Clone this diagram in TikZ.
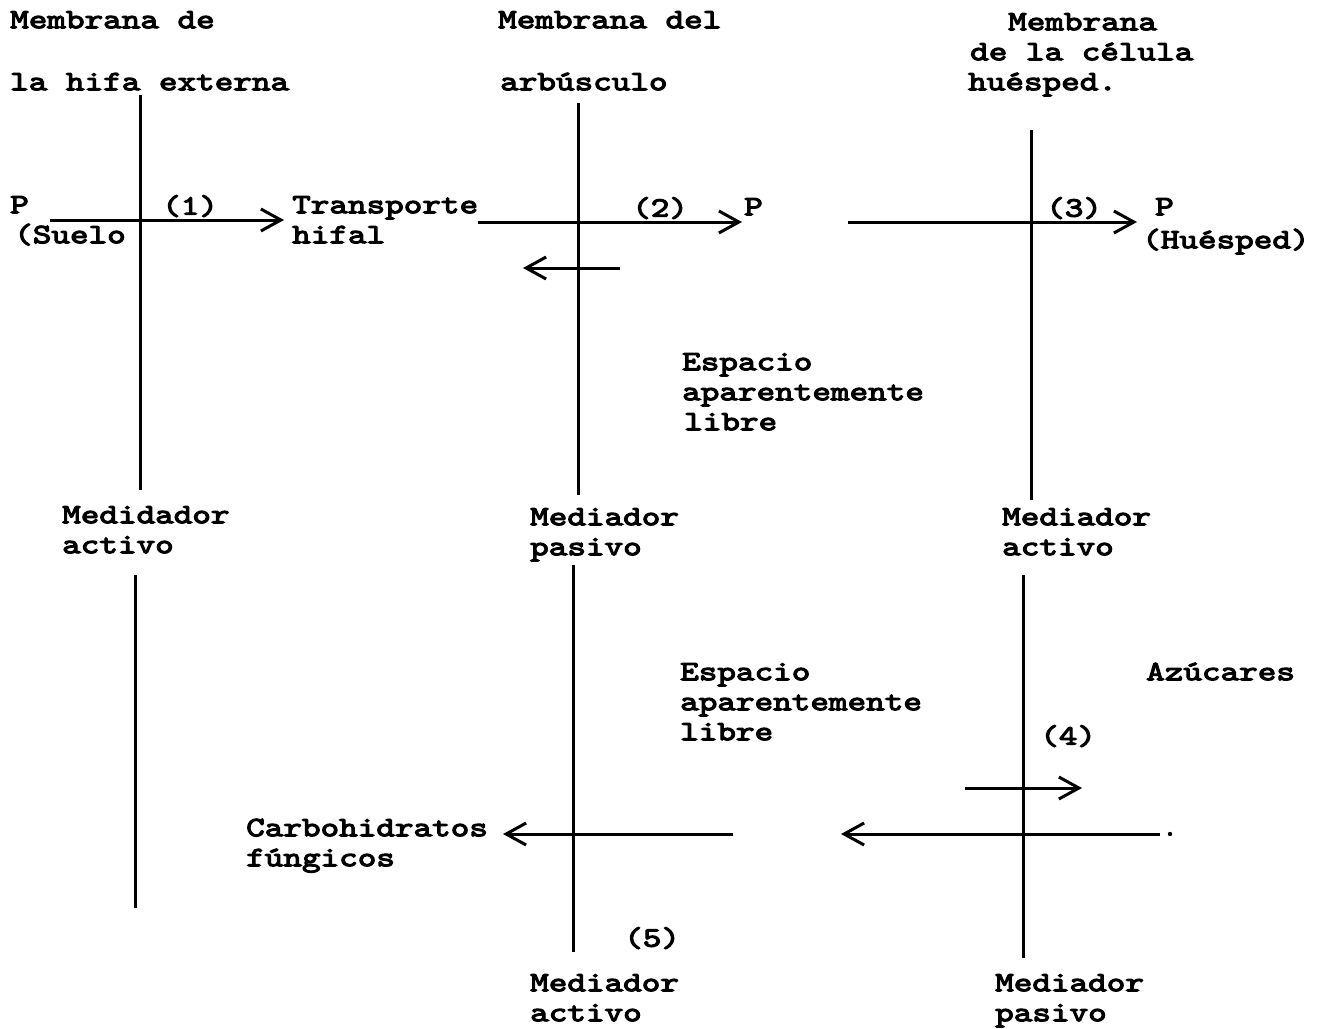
\documentclass[tikz,border=0pt]{standalone}
\usepackage{fontspec}
\newfontfamily\twfont{lmmono10-regular.otf}[FakeStretch=1.265,FakeBold=4]
\usetikzlibrary{arrows.meta}
\newcommand{\fl}{\rule{0pt}{18pt}}
\begin{document}
\begin{tikzpicture}[x=1pt,y=-1pt,
  lbl/.style={anchor=north west,inner sep=0pt,align=left,font=\fontsize{28}{30}\selectfont\twfont},
  mem/.style={line width=3pt},
  flow/.style={line width=3pt,-{Straight Barb[length=20pt,width=22pt,line width=3pt]}}]
\useasboundingbox (0,0) rectangle (1317,1028);
% membranes
\coordinate (m1a) at (140,95);  \coordinate (m1b) at (140,490);
\coordinate (m1c) at (135,575); \coordinate (m1d) at (135,908);
\coordinate (m2a) at (578,103); \coordinate (m2b) at (578,495);
\coordinate (m2c) at (573,565); \coordinate (m2d) at (573,952);
\coordinate (m3a) at (1031,130); \coordinate (m3b) at (1031,500);
\coordinate (m3c) at (1023,575); \coordinate (m3d) at (1023,958);
\draw[mem] (m1a) -- (m1b); \draw[mem] (m1c) -- (m1d);
\draw[mem] (m2a) -- (m2b); \draw[mem] (m2c) -- (m2d);
\draw[mem] (m3a) -- (m3b); \draw[mem] (m3c) -- (m3d);
% arrows
\coordinate (a1s) at (50,220);  \coordinate (a1e) at (284,220);
\coordinate (a2s) at (478,222); \coordinate (a2e) at (742,222);
\coordinate (a5s) at (620,268); \coordinate (a5e) at (523,268);
\coordinate (a3s) at (848,222); \coordinate (a3e) at (1137,222);
\coordinate (a4s) at (965,788); \coordinate (a4e) at (1082,788);
\coordinate (a6s) at (733,834); \coordinate (a6e) at (503,834);
\coordinate (a7s) at (1160,834); \coordinate (a7e) at (841,834);
\draw[flow] (a1s) -- (a1e);
\draw[flow] (a2s) -- (a2e);
\draw[flow] (a5s) -- (a5e);
\draw[flow] (a3s) -- (a3e);
\draw[flow] (a4s) -- (a4e);
\draw[flow] (a6s) -- (a6e);
\draw[flow] (a7s) -- (a7e);
\fill (1170,834) circle (2.2pt);
% labels (north = first baseline - 18)
\node[lbl] (t1) at (10,10) {\fl Membrana de};
\node[lbl] (t2) at (10,72) {\fl la hifa externa};
\node[lbl] (t3) at (498,10) {\fl Membrana del};
\node[lbl] (t4) at (500,72) {\fl arbúsculo};
\node[lbl] (t5) at (968,12) {\fl\hspace*{40pt}Membrana\\\hspace*{2pt}de la célula\\huésped.};
\node[lbl] (p1) at (10,195) {\fl P\\\hspace*{4pt}(Suelo};
\node[lbl] (n1) at (162,195) {\fl (1)};
\node[lbl] (tr) at (292,195) {\fl Transporte\\hifal};
\node[lbl] (n2) at (632,197) {\fl (2)};
\node[lbl] (p2) at (744,197) {\fl P};
\node[lbl] (n3) at (1046,197) {\fl (3)};
\node[lbl] (p3) at (1142,197) {\fl\hspace*{13pt}P\\[3pt](Huésped)};
\node[lbl] (e1) at (682,352) {\fl Espacio\\aparentemente\\\hspace*{2pt}libre};
\node[lbl] (md1) at (62,505) {\fl Medidador\\activo};
\node[lbl] (md2) at (530,507) {\fl Mediador\\pasivo};
\node[lbl] (md3) at (1002,507) {\fl Mediador\\activo};
\node[lbl] (f1) at (680,662) {\fl Espacio\\aparentemente\\libre};
\node[lbl] (az) at (1146,662) {\fl Azúcares};
\node[lbl] (n4) at (1040,725) {\fl (4)};
\node[lbl] (cb) at (246,818) {\fl Carbohidratos\\fúngicos};
\node[lbl] (n5) at (624,927) {\fl (5)};
\node[lbl] (md4) at (530,973) {\fl Mediador\\activo};
\node[lbl] (md5) at (995,973) {\fl Mediador\\pasivo};
\end{tikzpicture}
\end{document}
